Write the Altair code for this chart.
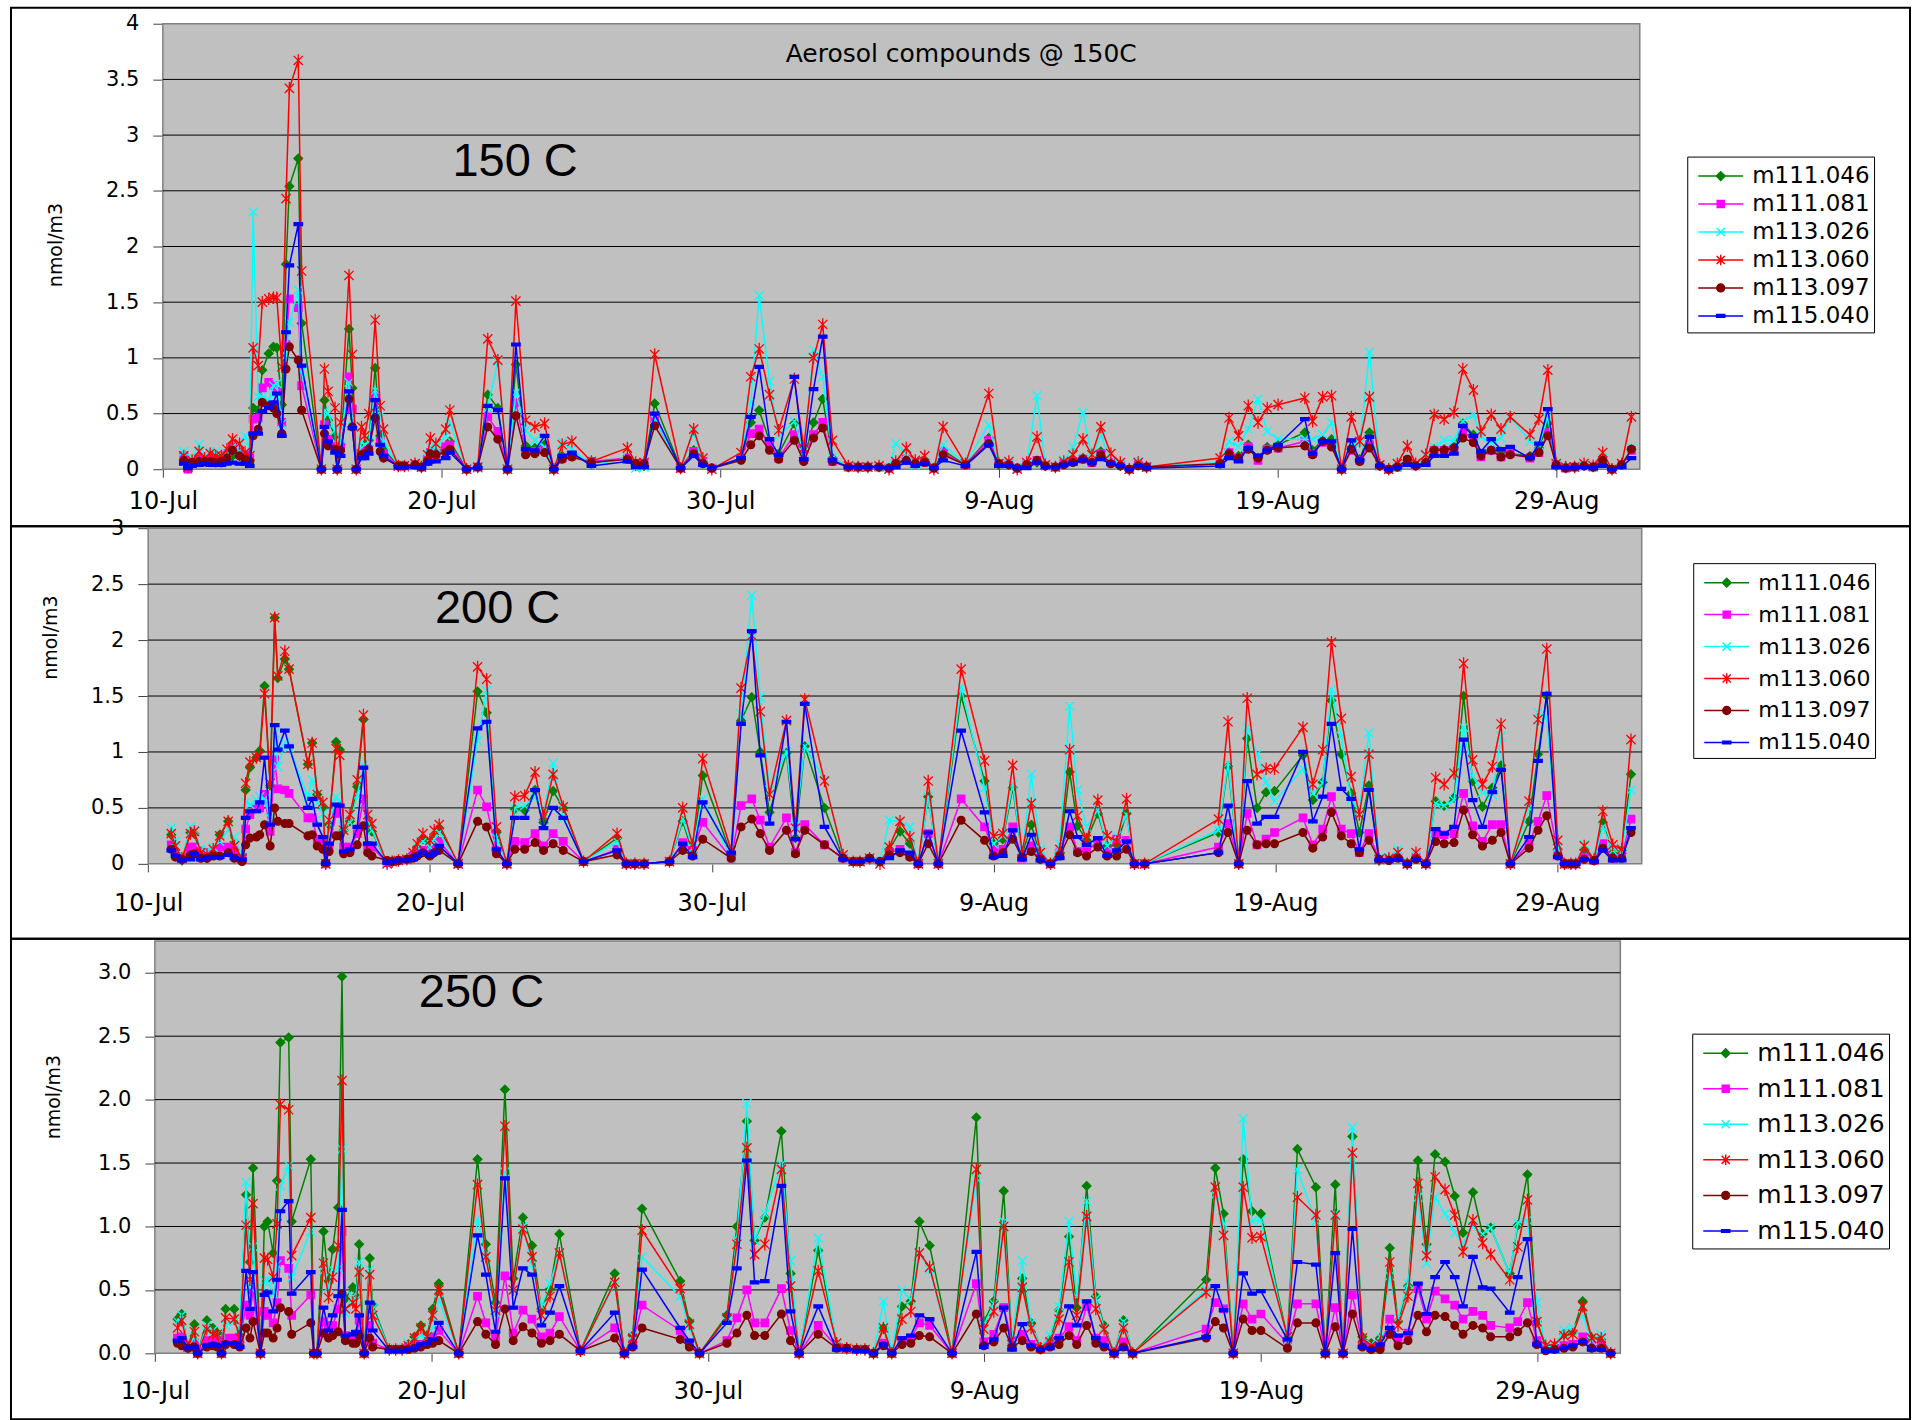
import altair as alt
import pandas as pd

SERIES = ["m111.046", "m111.081", "m113.026", "m113.060", "m113.097", "m115.040"]
COLORS = ["#008000", "#ff00ff", "#00ffff", "#ff0000", "#800000", "#0000ff"]

PANEL_LABELS = ["150 C", "200 C", "250 C"]
TOP_NOTE = "Aerosol compounds @ 150C"
Y_TITLE = "nmol/m3"

# x tick positions, days after 10 July
XTICK_DAYS = [0, 10, 20, 30, 40, 50]

# ---------------- 150 C ----------------
t150 = [
    0.75, 0.9, 1.05, 1.3, 1.5, 1.7, 1.9, 2.1, 2.3, 2.5,
    2.75, 2.95, 3.12, 3.24, 3.42, 3.57, 3.8, 3.97, 4.09, 4.27,
    4.42, 4.54, 4.86, 4.98, 5.69, 5.8, 5.93, 6.18, 6.26, 6.38,
    6.68, 6.8, 6.94, 7.13, 7.24, 7.39, 7.62, 7.8, 7.92, 8.45,
    8.67, 9.05, 9.28, 9.5, 9.6, 9.8, 10.15, 10.3, 10.9, 11.3,
    11.66, 12.02, 12.37, 12.67, 13.02, 13.35, 13.7, 14.03, 14.33, 14.68,
    15.38, 16.67, 16.97, 17.27, 17.65, 18.58, 19.05, 19.38, 19.7, 20.75,
    21.1, 21.4, 21.77, 22.1, 22.66, 23.0, 23.35, 23.68, 24.03, 24.6,
    24.95, 25.3, 25.7, 26.06, 26.3, 26.68, 27.0, 27.34, 27.67, 28.0,
    28.8, 29.64, 30.0, 30.36, 30.66, 31.0, 31.37, 31.67, 32.03, 32.33,
    32.66, 33.02, 33.34, 33.66, 34.02, 34.36, 34.68, 35.0, 35.3, 37.94,
    38.26, 38.6, 38.95, 39.3, 39.63, 40.02, 40.98, 41.26, 41.62, 41.94,
    42.3, 42.65, 42.95, 43.3, 43.67, 43.99, 44.3, 44.66, 44.96, 45.32,
    45.62, 45.98, 46.33, 46.65, 47.03, 47.3, 47.67, 48.02, 48.35, 49.06,
    49.38, 49.7, 50.0, 50.34, 50.66, 51.0, 51.33, 51.67, 52.0, 52.35,
    52.7,
]
m111_046_150 = [
    .08, .01, .06, .08, .07, .08, .06, .06, .10, .12,
    .12, .10, .08, .55, .53, .89, 1.04, 1.10, 1.09, .58,
    1.84, 2.54, 2.79, 1.31, 0, .62, .44, .30, 0, .22,
    1.26, .73, 0, .17, .22, .26, .91, .30, .18, .03,
    .03, .04, .02, .08, .15, .15, .20, .25, 0, .02,
    .67, .55, 0, .94, .21, .19, .22, 0, .12, .13,
    .05, .10, .03, .03, .59, .01, .17, .06, .01, .09,
    .42, .53, .25, .14, .41, .08, .42, .63, .10, .02,
    .02, .02, .02, .01, .05, .10, .06, .07, .01, .17,
    .04, .28, .04, .04, .01, .04, .06, .03, .02, .05,
    .08, .10, .07, .16, .06, .03, 0, .04, .02, .05,
    .15, .12, .22, .10, .20, .22, .33, .17, .26, .27,
    0, .18, .09, .33, .03, 0, .02, .08, .03, .07,
    .18, .18, .20, .41, .31, .14, .17, .16, .14, .12,
    .19, .41, .03, .02, .02, .03, .02, .08, 0, .04,
    .18,
]
m111_081_150 = [
    .12, .00, .06, .09, .08, .08, .07, .09, .14, .20,
    .15, .13, .10, .45, .46, .73, .78, .75, .70, .42,
    1.12, 1.53, 1.45, .75, 0, .40, .27, .20, 0, .20,
    .83, .54, 0, .14, .17, .18, .66, .25, .14, .03,
    .03, .04, .02, .09, .15, .13, .20, .22, 0, .02,
    .47, .34, 0, .60, .16, .16, .17, 0, .10, .12,
    .07, .10, .05, .05, .45, .01, .16, .07, .01, .10,
    .32, .36, .23, .10, .31, .09, .31, .42, .07, .02,
    .02, .02, .02, .01, .05, .09, .05, .06, .01, .15,
    .04, .26, .05, .05, .01, .04, .08, .03, .02, .05,
    .07, .09, .06, .14, .06, .04, 0, .04, .02, .05,
    .15, .10, .20, .08, .18, .19, .25, .14, .24, .22,
    0, .17, .08, .22, .03, 0, .02, .08, .03, .06,
    .17, .17, .18, .34, .26, .11, .17, .11, .14, .10,
    .15, .33, .04, .01, .02, .03, .02, .07, 0, .04,
    .17,
]
m113_026_150 = [
    .16, .03, .10, .22, .12, .16, .16, .12, .14, .20,
    .17, .30, .20, 2.31, .65, .65, .62, .75, .77, .41,
    1.02, 1.32, 1.61, .88, 0, .52, .50, .35, 0, .28,
    .78, .45, 0, .25, .22, .25, .71, .52, .25, .03,
    .02, .03, .02, .10, .20, .20, .30, .42, 0, .01,
    .55, .97, 0, .69, .35, .26, .20, 0, .24, .18,
    .04, .10, .01, .02, .45, .01, .33, .05, .01, .10,
    .61, 1.56, .79, .30, .43, .15, 1.07, .83, .10, .02,
    .02, .02, .02, .01, .23, .14, .04, .06, .01, .22,
    .05, .40, .04, .05, .01, .05, .66, .03, .02, .08,
    .20, .51, .10, .30, .07, .04, 0, .07, .02, .06,
    .25, .20, .36, .63, .34, .27, .27, .27, .31, .42,
    0, .22, .23, 1.05, .03, 0, .02, .10, .03, .12,
    .20, .26, .26, .43, .49, .29, .24, .28, .47, .25,
    .22, .47, .04, .02, .02, .03, .02, .10, 0, .03,
    .20,
]
m113_060_150 = [
    .12, .02, .08, .16, .10, .14, .12, .12, .18, .27,
    .23, .15, .12, 1.09, .93, 1.50, 1.53, 1.54, 1.54, .92,
    2.43, 3.42, 3.67, 1.78, 0, .90, .70, .55, 0, .42,
    1.74, 1.03, 0, .38, .30, .50, 1.34, .57, .36, .03,
    .03, .05, .02, .13, .28, .23, .36, .53, 0, .02,
    1.17, .98, 0, 1.51, .44, .38, .41, 0, .22, .25,
    .07, .19, .06, .06, 1.03, .01, .36, .10, 0, .15,
    .83, 1.08, .67, .35, .81, .19, 1.00, 1.30, .26, .03,
    .02, .02, .03, 0, .07, .19, .08, .12, 0, .38,
    .05, .68, .05, .07, 0, .06, .29, .04, .02, .07,
    .13, .27, .13, .38, .14, .06, 0, .06, .02, .10,
    .46, .30, .57, .42, .55, .58, .64, .43, .65, .66,
    0, .47, .25, .65, .04, 0, .05, .21, .05, .13,
    .49, .45, .51, .90, .71, .34, .49, .36, .47, .31,
    .45, .89, .05, .02, .02, .05, .03, .15, 0, .05,
    .47,
]
m113_097_150 = [
    .08, .05, .06, .07, .07, .07, .06, .07, .10, .17,
    .12, .09, .07, .30, .36, .60, .57, .55, .50, .32,
    .90, 1.10, .98, .53, 0, .32, .21, .18, 0, .17,
    .63, .38, 0, .13, .14, .18, .46, .16, .10, .03,
    .03, .04, .02, .07, .14, .13, .15, .18, 0, .02,
    .38, .27, 0, .48, .13, .14, .15, 0, .09, .11,
    .06, .09, .05, .05, .39, .01, .14, .05, .01, .08,
    .22, .30, .17, .09, .26, .07, .28, .37, .07, .02,
    .02, .02, .02, .01, .05, .08, .05, .06, .01, .13,
    .04, .23, .05, .04, .01, .04, .08, .03, .02, .04,
    .06, .09, .06, .13, .05, .03, 0, .03, .02, .05,
    .14, .10, .18, .10, .17, .19, .21, .13, .25, .20,
    0, .18, .07, .19, .03, 0, .02, .09, .03, .06,
    .17, .17, .19, .28, .24, .12, .17, .11, .13, .11,
    .15, .30, .04, .01, .02, .03, .02, .08, 0, .04,
    .18,
]
m115_040_150 = [
    .05, .01, .03, .04, .05, .04, .04, .04, .05, .06,
    .05, .05, .03, .32, .32, .52, .55, .60, .68, .30,
    1.23, 1.83, 2.20, .93, 0, .38, .25, .15, 0, .12,
    .70, .37, 0, .10, .10, .14, .62, .22, .12, .02,
    .02, .02, .01, .05, .07, .07, .10, .15, 0, .01,
    .57, .53, 0, 1.12, .18, .17, .30, 0, .12, .15,
    .03, .07, .02, .02, .50, .01, .12, .04, .01, .10,
    .47, .92, .27, .13, .83, .09, .72, 1.19, .08, .02,
    .02, .02, .02, .01, .02, .06, .03, .05, .01, .08,
    .03, .22, .03, .03, .01, .01, .06, .02, .02, .04,
    .05, .08, .06, .09, .05, .03, 0, .03, .01, .03,
    .10, .07, .19, .12, .17, .22, .45, .14, .25, .25,
    0, .26, .08, .29, .03, 0, .02, .04, .03, .04,
    .12, .12, .14, .39, .30, .16, .27, .18, .20, .10,
    .23, .54, .02, .01, .01, .02, .01, .03, 0, .02,
    .10,
]

# ---------------- 200 C ----------------
t200 = [
    0.82, 0.97, 1.2, 1.5, 1.64, 1.87, 2.09, 2.31, 2.54, 2.84,
    3.06, 3.33, 3.46, 3.61, 3.84, 3.96, 4.13, 4.33, 4.49, 4.6,
    4.85, 5.0, 5.67, 5.82, 6.0, 6.2, 6.3, 6.42, 6.67, 6.8,
    6.94, 7.16, 7.42, 7.64, 7.79, 7.94, 8.48, 8.66, 8.88, 9.18,
    9.4, 9.55, 9.75, 10.0, 10.15, 10.33, 11.0, 11.69, 12.01, 12.36,
    12.73, 13.01, 13.36, 13.73, 14.03, 14.37, 14.73, 15.45, 16.64, 16.97,
    17.27, 17.6, 18.5, 18.97, 19.32, 19.68, 20.69, 21.04, 21.42, 21.72,
    22.05, 22.65, 22.97, 23.3, 24.0, 24.66, 25.02, 25.26, 25.6, 25.97,
    26.3, 26.68, 27.03, 27.33, 27.68, 28.04, 28.85, 29.68, 30.0, 30.33,
    30.68, 31.01, 31.34, 31.66, 32.02, 32.35, 32.7, 32.98, 33.3, 33.7,
    34.03, 34.37, 34.72, 35.0, 35.36, 37.98, 38.32, 38.7, 39.0, 39.35,
    39.67, 39.97, 40.98, 41.33, 41.68, 41.99, 42.34, 42.69, 42.98, 43.32,
    43.68, 44.03, 44.35, 44.68, 44.99, 45.34, 45.69, 45.99, 46.34, 46.68,
    47.0, 47.35, 47.7, 48.01, 48.34, 49.0, 49.32, 49.63, 50.02, 50.26,
    50.49, 50.66, 50.96, 51.31, 51.62, 51.97, 52.29, 52.62,
]
m111_046_200 = [
    .26, .10, .03, .28, .27, .06, .05, .10, .26, .38,
    .10, .08, .66, .86, .95, 1.01, 1.59, .70, 2.20, 1.66,
    1.83, 1.74, .89, 1.08, .62, .50, 0, .35, 1.09, 1.02,
    .30, .38, .69, 1.29, .35, .29, .01, .02, .03, .04,
    .09, .15, .22, .17, .24, .32, 0, 1.54, 1.35, .28,
    0, .49, .48, .66, .37, .65, .50, .02, .23, 0,
    0, 0, .02, .38, .10, .79, .08, 1.28, 1.49, 1.00,
    .46, .99, .23, 1.05, .50, .05, .02, .02, .05, .02,
    .13, .29, .18, 0, .60, 0, 1.50, .74, .18, .22,
    .68, .08, .35, .07, 0, .10, .82, .34, .21, .45,
    .16, .17, .45, 0, 0, .28, .87, 0, 1.12, .50,
    .64, .65, .97, .57, .73, 1.46, .98, .63, .28, .70,
    .03, .04, .07, 0, .05, 0, .56, .52, .59, 1.50,
    .74, .51, .68, .88, 0, .38, .98, 1.50, .13, 0,
    0, 0, .13, .03, .37, .10, .12, .80,
]
m111_081_200 = [
    .17, .08, .05, .15, .15, .10, .10, .08, .15, .15,
    .12, .05, .31, .44, .49, .50, .62, .29, .93, .67,
    .66, .63, .41, .41, .22, .20, 0, .15, .45, .49,
    .15, .15, .27, .58, .16, .15, .01, .02, .03, .04,
    .07, .10, .12, .10, .14, .20, 0, .66, .51, .12,
    0, .20, .19, .27, .16, .27, .20, .02, .13, 0,
    0, 0, .02, .19, .12, .37, .05, .52, .58, .39,
    .15, .41, .10, .35, .17, .05, .02, .02, .05, .02,
    .10, .13, .07, 0, .27, 0, .58, .33, .12, .13,
    .33, .05, .16, .06, 0, .10, .33, .11, .11, .20,
    .10, .22, .21, 0, 0, .15, .36, 0, .45, .17,
    .22, .28, .41, .17, .31, .60, .31, .27, .10, .27,
    .04, .04, .06, 0, .06, 0, .27, .26, .27, .63,
    .34, .20, .35, .35, 0, .18, .38, .61, .10, 0,
    0, 0, .06, .03, .18, .05, .06, .40,
]
m113_026_200 = [
    .32, .20, .05, .33, .30, .13, .12, .15, .20, .30,
    .24, .07, .55, .53, .57, .60, .58, .41, 1.17, .87,
    1.08, 1.04, .60, .75, .55, .45, 0, .36, .60, .55,
    .33, .37, .61, .88, .40, .30, .01, .02, .03, .04,
    .10, .15, .20, .15, .22, .28, 0, 1.10, 1.55, .23,
    0, .50, .52, .60, .43, .90, .41, .02, .20, 0,
    0, 0, .02, .40, .14, .58, .05, 1.34, 2.40, 1.49,
    .66, 1.00, .35, 1.05, .75, .06, .02, .02, .05, .02,
    .39, .38, .33, 0, .60, 0, 1.58, .68, .18, .25,
    .71, .07, .80, .13, 0, .18, 1.41, .66, .33, .48,
    .16, .25, .44, 0, 0, .30, .90, 0, 1.22, .98,
    .73, .56, .85, .63, .72, 1.56, 1.14, .57, .48, 1.17,
    .05, .06, .13, 0, .07, 0, .54, .52, .57, 1.22,
    .78, .64, .62, 1.14, 0, .50, 1.35, 1.31, .15, 0,
    0, 0, .17, .04, .33, .12, .10, .66,
]
m113_060_200 = [
    .27, .16, .05, .27, .29, .10, .08, .13, .25, .38,
    .16, .05, .72, .91, .95, .97, 1.52, .72, 2.20, 1.68,
    1.90, 1.74, .89, 1.08, .62, .55, 0, .39, 1.03, .97,
    .30, .44, .75, 1.33, .44, .36, 0, .02, .03, .04,
    .10, .18, .27, .21, .30, .35, 0, 1.76, 1.65, .33,
    0, .60, .61, .82, .43, .80, .51, .02, .27, 0,
    0, 0, .02, .50, .17, .94, .12, 1.57, 2.04, 1.36,
    .62, 1.28, .32, 1.47, .74, .08, .02, .02, .05, 0,
    .15, .38, .24, 0, .74, 0, 1.74, .92, .25, .27,
    .88, .10, .54, .10, 0, .13, 1.02, .43, .22, .57,
    .25, .20, .58, 0, 0, .40, 1.27, 0, 1.48, .80,
    .85, .85, 1.22, .71, 1.02, 1.98, 1.30, .78, .44, .98,
    .04, .05, .10, 0, .10, 0, .77, .71, .81, 1.79,
    .93, .71, .87, 1.25, 0, .56, 1.29, 1.92, .21, 0,
    0, 0, .16, .04, .47, .17, .13, 1.11,
]
m113_097_200 = [
    .13, .06, .04, .08, .09, .05, .05, .07, .07, .10,
    .05, .02, .17, .23, .24, .26, .35, .16, .50, .38,
    .36, .36, .25, .26, .16, .13, .01, .11, .25, .25,
    .09, .10, .17, .34, .10, .07, .03, .02, .03, .04,
    .05, .07, .10, .07, .10, .12, 0, .38, .33, .09,
    0, .13, .13, .19, .12, .18, .12, .02, .08, 0,
    0, 0, .02, .12, .07, .22, .05, .33, .40, .27,
    .12, .30, .09, .30, .17, .05, .02, .02, .05, .02,
    .08, .10, .06, 0, .18, 0, .39, .21, .07, .10,
    .22, .06, .11, .04, 0, .07, .26, .10, .07, .15,
    .07, .07, .13, 0, 0, .10, .28, 0, .30, .17,
    .18, .18, .28, .14, .24, .46, .25, .18, .10, .21,
    .04, .03, .05, 0, .04, 0, .20, .18, .19, .48,
    .26, .16, .21, .28, 0, .14, .30, .43, .07, 0,
    0, 0, .04, .03, .14, .05, .05, .28,
]
m115_040_200 = [
    .12, .07, .03, .04, .09, .04, .05, .06, .06, .08,
    .05, .04, .41, .47, .47, .55, .95, .35, 1.24, 1.02,
    1.19, 1.05, .50, .58, .35, .24, 0, .18, .53, .52,
    .11, .13, .33, .86, .18, .18, .01, .02, .03, .03,
    .04, .07, .10, .07, .10, .16, 0, 1.21, 1.27, .13,
    0, .41, .41, .66, .32, .50, .41, .02, .12, 0,
    0, 0, .02, .18, .06, .55, .10, 1.25, 2.08, .97,
    .36, 1.27, .22, 1.43, .33, .04, .02, .02, .04, .02,
    .05, .12, .10, 0, .28, 0, 1.19, .46, .06, .07,
    .30, .04, .26, .03, 0, .05, .47, .24, .17, .23,
    .07, .12, .20, 0, 0, .10, .52, 0, .74, .36,
    .42, .42, 1.00, .38, .60, 1.25, .67, .58, .13, .66,
    .03, .03, .04, 0, .04, 0, .31, .27, .33, 1.11,
    .57, .33, .64, .84, 0, .24, .92, 1.52, .06, 0,
    0, 0, .04, .02, .12, .03, .03, .32,
]

# ---------------- 250 C ----------------
t250 = [
    0.82, 0.97, 1.2, 1.43, 1.55, 1.88, 2.1, 2.26, 2.41, 2.56,
    2.87, 3.07, 3.3, 3.44, 3.55, 3.82, 3.96, 4.08, 4.28, 4.42,
    4.54, 4.84, 4.95, 5.64, 5.75, 5.86, 6.1, 6.28, 6.43, 6.63,
    6.77, 6.89, 7.16, 7.27, 7.39, 7.57, 7.77, 7.88, 8.48, 8.71,
    8.94, 9.17, 9.39, 9.62, 9.85, 10.05, 10.27, 10.99, 11.67, 11.97,
    12.32, 12.66, 12.96, 13.31, 13.64, 13.98, 14.29, 14.63, 15.39, 16.63,
    16.98, 17.28, 17.62, 19.0, 19.33, 19.7, 20.69, 21.05, 21.41, 21.69,
    22.06, 22.66, 22.99, 23.3, 23.99, 24.66, 25.02, 25.38, 25.68, 25.99,
    26.35, 26.65, 27.02, 27.34, 27.65, 28.02, 28.83, 29.71, 29.98, 30.34,
    30.7, 31.0, 31.37, 31.69, 32.03, 32.37, 32.7, 33.06, 33.34, 33.7,
    34.03, 34.33, 34.69, 35.03, 35.36, 38.02, 38.35, 38.65, 39.0, 39.36,
    39.68, 40.0, 40.96, 41.32, 41.99, 42.33, 42.69, 42.97, 43.31, 43.67,
    43.99, 44.31, 44.66, 44.96, 45.32, 45.68, 45.99, 46.3, 46.66, 47.01,
    47.31, 47.67, 48.02, 48.31, 49.0, 49.29, 49.64, 49.98, 50.3, 50.62,
    50.96, 51.28, 51.64, 51.96, 52.31, 52.65,
]
m111_046_250 = [
    .27, .31, .05, .23, 0, .26, .20, .16, 0, .35,
    .35, .14, 1.25, .72, 1.46, 0, 1.00, 1.04, .79, 1.36,
    2.45, 2.49, 1.04, 1.53, 0, 0, .96, .57, .82, 1.15,
    2.97, .43, .52, .45, .86, 0, .75, .38, .03, .03,
    .03, .07, .13, .22, .14, .35, .55, 0, 1.53, .86,
    .40, 2.08, .59, 1.07, .85, .35, .51, .94, .02, .63,
    0, .14, 1.14, .57, .25, 0, .30, 1.00, 1.83, .89,
    1.07, 1.75, .63, 0, .81, .07, .04, .03, .03, 0,
    .20, 0, .37, .41, 1.04, .85, 0, 1.86, .25, .41,
    1.28, .06, .59, .24, .05, .11, .34, .92, .36, 1.32,
    .45, .22, 0, .26, 0, .58, 1.46, 1.10, 0, 1.53,
    1.12, 1.10, .12, 1.61, 1.31, 0, 1.33, 0, 1.71, .13,
    .08, .12, .83, .25, .53, 1.52, .86, 1.57, 1.51, 1.24,
    .95, 1.27, .94, .99, .63, 1.01, 1.41, .25, .05, .06,
    .15, .17, .41, .12, .11, 0,
]
m111_081_250 = [
    .12, .13, .06, .08, 0, .10, .10, .10, 0, .12,
    .12, .10, .38, .30, .50, 0, .33, .30, .24, .40,
    .73, .67, .30, .46, 0, 0, .25, .22, .22, .35,
    .96, .14, .13, .11, .26, 0, .22, .08, .03, .03,
    .03, .05, .06, .07, .08, .13, .18, 0, .45, .24,
    .12, .61, .16, .34, .27, .13, .16, .29, .02, .20,
    0, .08, .38, .18, .08, 0, .10, .28, .50, .24,
    .24, .51, .18, 0, .22, .05, .04, .03, .03, 0,
    .08, 0, .10, .12, .24, .22, 0, .55, .09, .15,
    .36, .10, .15, .07, .04, .06, .12, .21, .10, .37,
    .12, .10, 0, .09, 0, .19, .40, .35, 0, .39,
    .27, .31, .08, .39, .39, 0, .36, 0, .46, .07,
    .05, .05, .27, .11, .16, .51, .27, .49, .43, .38,
    .27, .33, .30, .22, .20, .25, .40, .10, .04, .04,
    .06, .07, .13, .06, .06, 0,
]
m113_026_250 = [
    .25, .30, .05, .13, 0, .22, .18, .15, 0, .22,
    .25, .20, 1.35, .52, .84, 0, .57, .58, .47, .70,
    1.32, 1.48, .60, .96, 0, 0, .65, .52, .66, .67,
    1.61, .32, .45, .42, .72, 0, .66, .35, .03, .03,
    .03, .08, .12, .14, .13, .20, .42, 0, 1.06, .78,
    .32, 1.43, .50, 1.00, .70, .37, .55, .79, .02, .55,
    0, .14, .76, .45, .20, 0, .25, .90, 1.97, .89,
    1.10, 1.49, .73, 0, .91, .07, .04, .03, .03, 0,
    .41, 0, .50, .42, .79, .66, 0, 1.38, .22, .39,
    1.04, .12, .73, .24, .05, .14, .37, 1.04, .45, 1.20,
    .43, .20, 0, .25, 0, .50, 1.25, 1.02, 0, 1.85,
    1.04, 1.05, .10, 1.45, 1.04, 0, 1.10, 0, 1.78, .12,
    .07, .13, .61, .28, .55, 1.23, .71, 1.23, 1.10, .95,
    .87, 1.00, .94, .99, .63, 1.03, 1.05, .40, .05, .06,
    .18, .20, .30, .10, .15, 0,
]
m113_060_250 = [
    .20, .26, .05, .17, 0, .19, .15, .15, 0, .28,
    .27, .12, 1.01, .58, 1.18, 0, .75, .74, .60, 1.02,
    1.96, 1.92, .77, 1.07, 0, 0, .71, .44, .60, .85,
    2.15, .35, .40, .35, .64, 0, .62, .30, .03, .03,
    .03, .06, .12, .20, .13, .30, .50, 0, 1.33, .76,
    .34, 1.79, .50, .98, .76, .30, .45, .79, .02, .56,
    0, .12, .97, .51, .23, 0, .28, .86, 1.62, .78,
    .86, 1.45, .53, 0, .65, .08, .04, .03, .03, 0,
    .20, 0, .27, .33, .79, .68, 0, 1.45, .19, .33,
    1.00, .07, .52, .20, .04, .09, .27, .72, .30, 1.08,
    .35, .19, 0, .20, 0, .48, 1.31, .93, 0, 1.31,
    .91, .92, .13, 1.23, 1.09, 0, 1.09, 0, 1.58, .12,
    .06, .08, .72, .22, .45, 1.34, .77, 1.39, 1.29, 1.09,
    .80, 1.05, .87, .78, .58, .84, 1.21, .25, .06, .07,
    .14, .15, .37, .12, .12, 0,
]
m113_097_250 = [
    .08, .06, .04, .05, 0, .05, .06, .05, 0, .07,
    .07, .05, .20, .12, .25, 0, .16, .16, .12, .20,
    .36, .33, .15, .24, 0, 0, .16, .12, .14, .17,
    .47, .10, .08, .08, .14, 0, .12, .05, .03, .03,
    .03, .03, .04, .05, .07, .08, .10, 0, .25, .15,
    .07, .35, .10, .21, .16, .08, .10, .15, .02, .12,
    0, .05, .20, .11, .05, 0, .08, .16, .30, .14,
    .14, .31, .10, 0, .15, .04, .04, .03, .03, 0,
    .06, 0, .07, .08, .14, .13, 0, .31, .06, .09,
    .20, .05, .10, .05, .03, .05, .07, .14, .07, .22,
    .08, .05, 0, .05, 0, .12, .25, .20, 0, .27,
    .18, .18, .04, .24, .24, 0, .21, 0, .31, .05,
    .03, .03, .15, .06, .10, .30, .17, .30, .29, .22,
    .15, .22, .20, .13, .13, .17, .24, .07, .02, .03,
    .04, .05, .09, .04, .04, 0,
]
m115_040_250 = [
    .10, .12, .04, .05, 0, .06, .07, .06, 0, .08,
    .08, .05, .65, .35, .64, 0, .46, .48, .33, .58,
    1.12, 1.20, .47, .64, 0, 0, .36, .18, .30, .45,
    1.13, .14, .15, .17, .30, 0, .40, .18, .02, .02,
    .02, .03, .04, .07, .08, .11, .24, 0, .93, .62,
    .17, 1.38, .36, .67, .62, .22, .32, .53, .02, .32,
    0, .05, .66, .20, .10, 0, .24, .67, 1.52, .56,
    .57, 1.32, .33, 0, .37, .03, .03, .02, .02, 0,
    .07, 0, .12, .14, .30, .27, 0, .80, .05, .11,
    .36, .03, .23, .06, .03, .04, .12, .37, .22, .41,
    .12, .06, 0, .04, 0, .13, .53, .34, 0, .63,
    .47, .49, .11, .72, .70, 0, .79, 0, .98, .05,
    .03, .07, .20, .14, .16, .55, .31, .60, .72, .60,
    .37, .76, .52, .51, .32, .60, .90, .07, .02, .02,
    .04, .06, .09, .03, .03, 0,
]

# ---------------- styling ----------------
FONT = "DejaVu Sans"
BIG_FONT = "Liberation Sans"
PLOT_W = 1495

# markers on the data points
MARKERS = [
    "diamond",
    "square",
    "M-1,-1L1,1M-1,1L1,-1",
    "M-1,-1L1,1M-1,1L1,-1M0,-1.35V1.35",
    "circle",
    "M-1,-0.35H1V0.35H-1Z",
]
MARKER_SIZES = [75, 55, 80, 85, 60, 70]

# legend keys: a short line with the marker in its middle
KEYS = [
    "M-1.55,0H1.55M0,-0.3L0.3,0L0,0.3L-0.3,0Z",
    "M-1.55,0H1.55M-0.24,-0.24H0.24V0.24H-0.24Z",
    "M-1.55,0H1.55M-0.28,-0.28L0.28,0.28M-0.28,0.28L0.28,-0.28",
    "M-1.55,0H1.55M-0.28,-0.28L0.28,0.28M-0.28,0.28L0.28,-0.28M0,-0.36V0.36",
    "M-1.55,0H1.55M0.27,0A0.27,0.27 0 1,1 -0.27,0A0.27,0.27 0 1,1 0.27,0Z",
    "M-1.55,0H1.55M-0.28,-0.09H0.28V0.09H-0.28Z",
]

BASE = pd.Timestamp("2005-07-10")


def when(day):
    return BASE + pd.Timedelta(days=day)


def dt(day):
    ts = when(day)
    return alt.DateTime(year=ts.year, month=ts.month, date=ts.day,
                        hours=ts.hour, minutes=ts.minute, seconds=ts.second)


def long_frame(times, cols):
    rows = []
    for name, vals in zip(SERIES, cols):
        if len(vals) != len(times):
            raise ValueError(f"{name}: {len(vals)} values for {len(times)} times")
        for d, v in zip(times, vals):
            rows.append({"t": when(d), "series": name, "v": v})
    return pd.DataFrame(rows)


def build_panel(times, cols, cfg):
    df = long_frame(times, cols)
    xs = alt.Scale(domain=[dt(cfg["x0"]), dt(cfg["x1"])])
    ys = alt.Scale(domain=[0, cfg["ymax"]], nice=False, zero=False)
    fill_s = alt.Scale(domain=SERIES, range=COLORS)
    stroke_s = alt.Scale(domain=SERIES, range=COLORS)
    # the axes are described once (on the grey area layer); the other
    # layers only share the scales
    X = alt.X("t:T", scale=xs)
    Y = alt.Y("v:Q", scale=ys)

    x_axis = alt.Axis(
        values=[dt(d) for d in XTICK_DAYS], format="%-d-%b", title=None,
        labelFont=FONT, labelFontSize=24, labelColor="black",
        labelPadding=cfg["xpad"], tickSize=8, tickColor="#404040",
        domain=False, grid=False, labelFlush=False, labelOverlap=False,
    )
    y_axis = alt.Axis(
        values=cfg["yticks"], format=cfg["yfmt"], title=Y_TITLE,
        labelFont=FONT, labelFontSize=21, labelColor="black", labelPadding=14,
        tickSize=10, tickColor="#404040", domain=False, grid=False,
        labelFlush=False, labelOverlap=False, offset=cfg["yoffset"],
        titleFont=FONT, titleFontSize=19, titleFontWeight="normal",
        titleColor="black", titleAngle=270, titleAlign="center",
        titleBaseline="alphabetic", titleX=cfg["title_x"], titleY=cfg["title_y"],
    )

    # grey plotting area with its border
    bg_df = pd.DataFrame({"t0": [when(0)], "t1": [when(53)], "lo": [0.0], "hi": [cfg["gray_top"]]})
    bg = alt.Chart(bg_df).mark_rect(fill="#c0c0c0", stroke="#808080", strokeWidth=1.5).encode(
        x=alt.X("t0:T", scale=xs, axis=x_axis), x2="t1:T",
        y=alt.Y("lo:Q", scale=ys, axis=y_axis), y2="hi:Q",
    )

    grid_df = pd.DataFrame({"t0": [when(0)] * len(cfg["grid"]),
                            "t1": [when(53)] * len(cfg["grid"]),
                            "g": cfg["grid"]})
    grid = alt.Chart(grid_df).mark_rule(color="black", strokeWidth=1).encode(
        x=alt.X("t0:T", scale=xs), x2="t1:T",
        y=alt.Y("g:Q", scale=ys),
    )

    legend = alt.Legend(
        title=None, orient="none", legendX=cfg["leg_x"], legendY=cfg["leg_y"],
        fillColor="white", strokeColor="black", padding=4,
        symbolSize=841, symbolStrokeWidth=1.5, symbolOffset=14, labelOffset=16,
        labelFont=FONT, labelFontSize=cfg["leg_fs"], labelColor="black",
        rowPadding=cfg["leg_row"],
    )
    key_layer = alt.Chart(df).transform_filter("false").mark_point(
        filled=True, opacity=1, strokeWidth=1.5
    ).encode(
        x=X, y=Y,
        fill=alt.Fill("series:N", scale=fill_s, legend=legend),
        stroke=alt.Stroke("series:N", scale=stroke_s, legend=legend),
        shape=alt.Shape("series:N", scale=alt.Scale(domain=SERIES, range=KEYS), legend=legend),
    )

    layers = [bg, grid, key_layer]
    for name, marker, msize in zip(SERIES, MARKERS, MARKER_SIZES):
        sub = alt.Chart(df).transform_filter(alt.datum.series == name)
        layers.append(sub.mark_line(strokeWidth=1.5).encode(
            x=X, y=Y, stroke=alt.Stroke("series:N", scale=stroke_s)))
        layers.append(sub.mark_point(shape=marker, size=msize, filled=True,
                                     opacity=1, strokeWidth=1.3).encode(
            x=X, y=Y,
            fill=alt.Fill("series:N", scale=fill_s),
            stroke=alt.Stroke("series:N", scale=stroke_s)))

    lab_df = pd.DataFrame({"t": [when(cfg["lab_day"])], "v": [cfg["lab_v"]], "txt": [cfg["label"]]})
    layers.append(alt.Chart(lab_df).mark_text(
        font=BIG_FONT, fontSize=47, color="black", align="center", baseline="middle"
    ).encode(x=X, y=Y, text="txt:N"))

    if cfg.get("note"):
        note_df = pd.DataFrame({"t": [when(cfg["note_day"])], "v": [cfg["note_v"]], "txt": [cfg["note"]]})
        layers.append(alt.Chart(note_df).mark_text(
            font=FONT, fontSize=25, color="black", align="center", baseline="middle"
        ).encode(x=X, y=Y, text="txt:N"))

    # outline of the panel
    frame = alt.Chart(pd.DataFrame({"k": [0]})).mark_rect(
        fill="transparent", stroke="black", strokeWidth=2
    ).encode(
        x=alt.value(-137), x2=alt.value(1764),
        y=alt.value(cfg["frame_top"]), y2=alt.value(cfg["frame_bottom"]),
    )
    layers.append(frame)

    return alt.layer(*layers).properties(width=PLOT_W, height=cfg["height"])


p150 = build_panel(
    t150,
    [m111_046_150, m111_081_150, m113_026_150, m113_060_150, m113_097_150, m115_040_150],
    dict(x0=-0.538, x1=53.054, ymax=4, gray_top=4, height=446,
         yticks=[0, 0.5, 1, 1.5, 2, 2.5, 3, 3.5, 4], yfmt=".1~f",
         grid=[0.5, 1, 1.5, 2, 2.5, 3, 3.5], yoffset=-15,
         title_x=-101, title_y=221, xpad=12,
         leg_x=1541, leg_y=133, leg_fs=23, leg_row=0,
         label=PANEL_LABELS[0], lab_day=12.64, lab_v=2.76,
         note=TOP_NOTE, note_day=28.65, note_v=3.73,
         frame_top=-16, frame_bottom=503),
)

p200 = build_panel(
    t200,
    [m111_046_200, m111_081_200, m113_026_200, m113_060_200, m113_097_200, m115_040_200],
    dict(x0=-0.011, x1=52.985, ymax=3, gray_top=3, height=336,
         yticks=[0, 0.5, 1, 1.5, 2, 2.5, 3], yfmt=".1~f",
         grid=[0.5, 1, 1.5, 2, 2.5], yoffset=0,
         title_x=-91, title_y=109, xpad=20,
         leg_x=1547, leg_y=35, leg_fs=22, leg_row=5,
         label=PANEL_LABELS[1], lab_day=12.40, lab_v=2.28,
         frame_top=-2, frame_bottom=411),
)

p250 = build_panel(
    t250,
    [m111_046_250, m111_081_250, m113_026_250, m113_060_250, m113_097_250, m115_040_250],
    dict(x0=-0.253, x1=53.757, ymax=3.394, gray_top=3.25, height=431,
         yticks=[0, 0.5, 1, 1.5, 2, 2.5, 3], yfmt=".1f",
         grid=[0.5, 1, 1.5, 2, 2.5, 3], yoffset=-7,
         title_x=-95, title_y=174, xpad=18,
         leg_x=1546, leg_y=111, leg_fs=25, leg_row=6.6,
         label=PANEL_LABELS[2], lab_day=11.81, lab_v=2.84,
         frame_top=16, frame_bottom=497),
)

chart = alt.vconcat(p150, p200, p250, spacing=59, bounds="flush").resolve_scale(
    x="independent", y="independent",
    fill="independent", stroke="independent", shape="independent",
).resolve_legend(
    fill="independent", stroke="independent", shape="independent",
).properties(
    padding={"left": 10, "top": 6, "right": 3, "bottom": 1},
    background="white",
).configure_view(strokeWidth=0)

chart.save("out.html", embed_options={"renderer": "svg", "actions": False})
